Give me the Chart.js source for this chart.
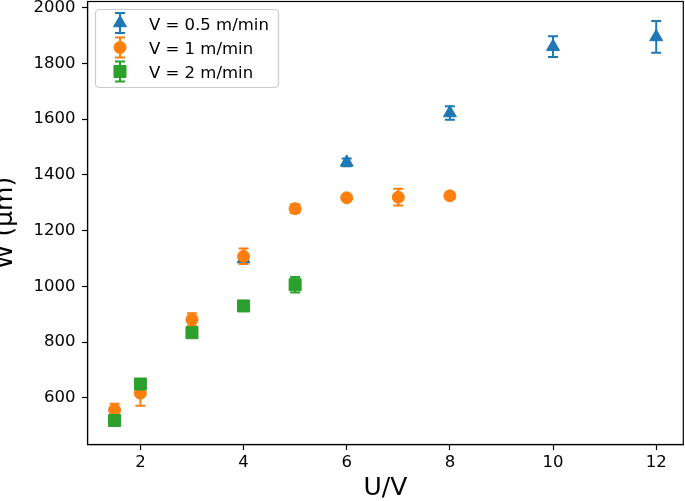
<!DOCTYPE html>
<html>
<head>
<meta charset="utf-8">
<script src="https://cdn.jsdelivr.net/npm/chart.js@4"></script>
<style>
	body { margin: 0; background: #fff; }
	#wrap { width: 685px; height: 501px; }
</style>
</head>
<body>
<div id="wrap"><canvas id="wChart"></canvas></div>
<script>
	//V = 0.5 m/min
	var uvSlow = [4, 6, 8, 10, 12];
	var wSlow = [1098, 1445, 1622, 1860, 1895];
	var errSlow = [10, 14, 24, 37, 57];

	//V = 1 m/min
	var uvMid = [1.5, 2, 3, 4, 5, 6, 7, 8];
	var wMid = [557, 617, 881, 1108, 1279, 1318, 1320, 1325];
	var errMid = [22, 45, 23, 28, 16, 10, 30, 8];

	//V = 2 m/min
	var uvFast = [1.5, 2, 3, 4, 5];
	var wFast = [519, 650, 834, 930, 1006];
	var errFast = [8, 12, 10, 15, 28];

	var seriesNames = ['V = 0.5 m/min', 'V = 1 m/min', 'V = 2 m/min'];
	var xTicks = [2, 4, 6, 8, 10, 12];
	var yTicks = [600, 800, 1000, 1200, 1400, 1600, 1800, 2000];

	//x, y, 오차를 점 객체로
	function toPoints(xs, ys, es) {
		var list = [];
		for (var i = 0; i < xs.length; i++) {
			list.push({ x: xs[i], y: ys[i], err: es[i] });
		}
		return list;
	}

	Chart.defaults.font.family = '"DejaVu Sans", sans-serif';
	Chart.defaults.color = '#000';

	//오차 막대 (각 시리즈 마커 아래에)
	var errorBarPlugin = {
		id: 'errorBars',
		beforeDatasetDraw: function(chart, args) {
			var ds = chart.data.datasets[args.index];
			var yScale = chart.scales.y;
			var ctx = chart.ctx;
			ctx.save();
			ctx.strokeStyle = ds.borderColor;
			ctx.lineWidth = 2;
			args.meta.data.forEach(function(pt, i) {
				var d = ds.data[i];
				var top = yScale.getPixelForValue(d.y + d.err);
				var bot = yScale.getPixelForValue(d.y - d.err);
				ctx.beginPath();
				ctx.moveTo(pt.x, top); ctx.lineTo(pt.x, bot);
				ctx.moveTo(pt.x - 5, top); ctx.lineTo(pt.x + 5, top);
				ctx.moveTo(pt.x - 5, bot); ctx.lineTo(pt.x + 5, bot);
				ctx.stroke();
			});
			ctx.restore();
		}
	};

	//테두리 + 범례
	var framePlugin = {
		id: 'frameLegend',
		afterDraw: function(chart) {
			var ctx = chart.ctx;
			var a = chart.chartArea;
			ctx.save();
			ctx.strokeStyle = '#000';
			ctx.lineWidth = 1.2;
			ctx.strokeRect(a.left, a.top, a.right - a.left, a.bottom - a.top);

			//범례 박스
			var bx = a.left + 8, by = a.top + 8;
			ctx.beginPath();
			ctx.roundRect(bx, by, 183, 78, 4);
			ctx.fillStyle = 'rgba(255,255,255,0.8)';
			ctx.fill();
			ctx.strokeStyle = '#cccccc';
			ctx.lineWidth = 1.2;
			ctx.stroke();

			var rows = [23, 47.5, 71.5];
			chart.data.datasets.forEach(function(ds, i) {
				var cx = 120, cy = rows[i];
				ctx.strokeStyle = ds.borderColor;
				ctx.fillStyle = ds.backgroundColor;
				ctx.lineWidth = 2;
				ctx.beginPath();
				ctx.moveTo(cx, cy - 10); ctx.lineTo(cx, cy + 10);
				ctx.moveTo(cx - 5, cy - 10); ctx.lineTo(cx + 5, cy - 10);
				ctx.moveTo(cx - 5, cy + 10); ctx.lineTo(cx + 5, cy + 10);
				ctx.stroke();
				ctx.lineWidth = 1;
				Chart.helpers.drawPoint(ctx, { pointStyle: ds.pointStyle, radius: ds.pointRadius, rotation: 0, borderWidth: 1 }, cx, cy);
				ctx.fillStyle = '#000';
				ctx.font = '16.5px "DejaVu Sans"';
				ctx.textBaseline = 'alphabetic';
				ctx.textAlign = 'left';
				ctx.fillText(seriesNames[i], 149, cy + 6.5);
			});
			ctx.restore();
		}
	};

	var data = {
		datasets: [{
			label: seriesNames[0],
			data: toPoints(uvSlow, wSlow, errSlow),
			pointStyle: 'triangle',
			pointRadius: 7.5,
			backgroundColor: '#1f77b4',
			borderColor: '#1f77b4',
			borderWidth: 1,
			order: 3
		}, {
			label: seriesNames[1],
			data: toPoints(uvMid, wMid, errMid),
			pointStyle: 'circle',
			pointRadius: 6,
			backgroundColor: '#ff7f0e',
			borderColor: '#ff7f0e',
			borderWidth: 1,
			order: 2
		}, {
			label: seriesNames[2],
			data: toPoints(uvFast, wFast, errFast),
			pointStyle: 'rect',
			pointRadius: 8.5,
			backgroundColor: '#2ca02c',
			borderColor: '#2ca02c',
			borderWidth: 1,
			order: 1
		}]
	};

	var config = {
		type: 'scatter',
		data: data,
		plugins: [errorBarPlugin, framePlugin],
		options: {
			responsive: true,
			maintainAspectRatio: false,
			animation: false,
			layout: { autoPadding: false, padding: { left: 0, top: 1.5, right: 1.7, bottom: 0 } },
			plugins: {
				legend: { display: false },
				tooltip: { enabled: false }
			},
			scales: {
				x: {
					type: 'linear',
					min: 0.975,
					max: 12.525,
					afterBuildTicks: function(s) { s.ticks = xTicks.map(function(v) { return { value: v }; }); },
					afterFit: function(s) { s.height = 56.5; s.paddingLeft = 0; s.paddingRight = 0; },
					ticks: { color: '#000', font: { size: 16.5 }, padding: 3, maxRotation: 0, callback: function(v) { return String(v); } },
					grid: { drawOnChartArea: false, drawTicks: true, tickLength: 5.5, tickColor: '#000', tickWidth: 1.2 },
					border: { display: true, color: '#000', width: 1.2 },
					title: { display: true, text: 'U/V', color: '#000', font: { size: 25, lineHeight: 1 }, padding: { top: 0, bottom: 0 } }
				},
				y: {
					type: 'linear',
					min: 433,
					max: 2022,
					afterBuildTicks: function(s) { s.ticks = yTicks.map(function(v) { return { value: v }; }); },
					afterFit: function(s) { s.width = 87.5; s.paddingTop = 0; s.paddingBottom = 0; },
					ticks: { color: '#000', font: { size: 16.5 }, padding: 6.5, callback: function(v) { return String(v); } },
					grid: { drawOnChartArea: false, drawTicks: true, tickLength: 5.5, tickColor: '#000', tickWidth: 1.2 },
					border: { display: true, color: '#000', width: 1.2 },
					title: { display: true, text: 'W (μm)', color: '#000', font: { size: 25, lineHeight: 1 }, padding: { top: -6.6, bottom: 0 } }
				}
			}
		}
	};

	var ctx1 = document.getElementById('wChart').getContext('2d');
	new Chart(ctx1, config);
</script>
</body>
</html>
